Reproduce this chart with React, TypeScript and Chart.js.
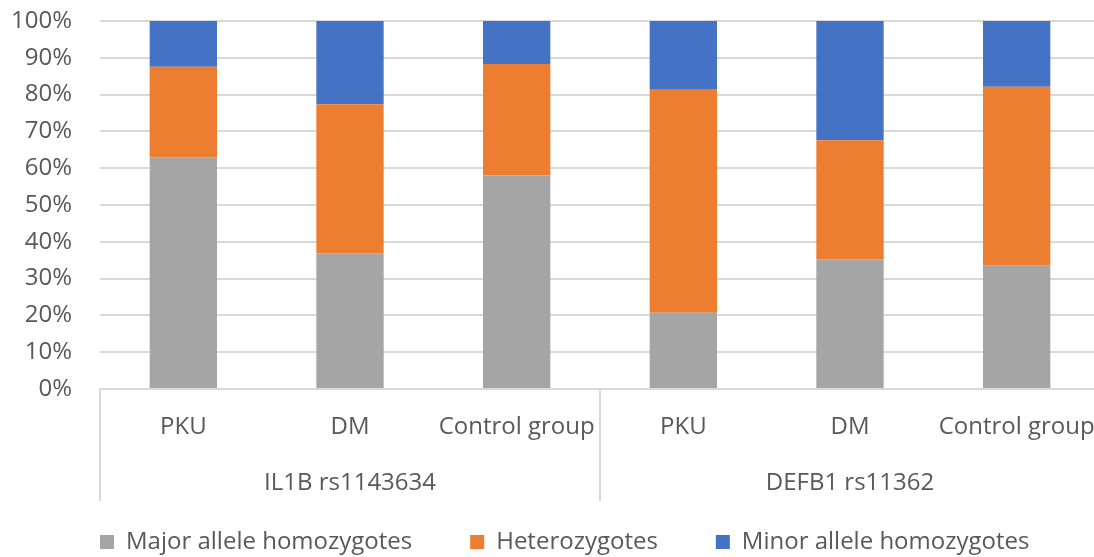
import React, { useEffect, useRef } from 'react';
import { Chart, registerables } from 'chart.js';

Chart.register(...registerables);

const categories = ['PKU', 'DM', 'Control group', 'PKU', 'DM', 'Control group'];
const groupLabels = ['IL1B rs1143634', 'DEFB1 rs11362'];
const groupSizes = [3, 3];
const seriesNames = ['Major allele homozygotes', 'Heterozygotes', 'Minor allele homozygotes'];
const majorValues = [63.0, 36.9, 58.0, 20.7, 35.2, 33.6];
const heteroValues = [24.6, 40.5, 30.3, 60.6, 32.4, 48.5];
const minorValues = [12.4, 22.6, 11.7, 18.7, 32.4, 17.9];
const seriesColors = ['#A5A5A5', '#ED7D31', '#4472C4'];

const TEXT = '#595959';
const GRID = '#d9d9d9';
const FONT = "'Open Sans'";
const LEGEND_LEFT = 42;

const groupPlugin = {
  id: 'groupPlugin',
  afterLayout(chart: any) {
    if (chart.legend) {
      const w = chart.legend.width;
      chart.legend.left = LEGEND_LEFT;
      chart.legend.right = LEGEND_LEFT + w;
    }
  },
  afterDraw(chart: any) {
    const x = chart.scales.x;
    const { ctx, chartArea } = chart;
    const catW = (x.right - x.left) / categories.length;
    let start = 0;
    ctx.save();
    ctx.strokeStyle = GRID;
    ctx.lineWidth = 2;
    ctx.fillStyle = TEXT;
    ctx.font = `24px ${FONT}`;
    ctx.textAlign = 'center';
    ctx.textBaseline = 'middle';
    groupLabels.forEach((label, gi) => {
      const size = groupSizes[gi];
      const left = x.getPixelForValue(start) - catW / 2;
      const right = x.getPixelForValue(start + size - 1) + catW / 2;
      ctx.beginPath();
      ctx.moveTo(left, chartArea.bottom);
      ctx.lineTo(left, chartArea.bottom + 112);
      ctx.stroke();
      ctx.fillText(label, (left + right) / 2, chartArea.bottom + 94);
      start += size;
    });
    ctx.restore();
  },
};

export default function App() {
  const ref = useRef<HTMLCanvasElement | null>(null);
  useEffect(() => {
    if (!ref.current) return;
    const values = [majorValues, heteroValues, minorValues];
    const chart = new Chart(ref.current, {
      type: 'bar',
      data: {
        labels: categories,
        datasets: seriesNames.map((name, i) => ({
          label: name,
          data: values[i],
          backgroundColor: seriesColors[i],
          borderWidth: 0,
          barPercentage: 0.404,
          categoryPercentage: 1,
        })),
      },
      options: {
        responsive: false,
        animation: false,
        devicePixelRatio: 1,
        layout: { padding: { left: 0, top: 21, right: 0, bottom: 0 } },
        plugins: {
          tooltip: { enabled: false },
          legend: {
            position: 'bottom',
            align: 'start',
            labels: {
              boxWidth: 14,
              boxHeight: 14,
              padding: 58,
              color: TEXT,
              font: { family: FONT, size: 24 },
            },
          },
        },
        scales: {
          x: {
            stacked: true,
            grid: { display: false, drawTicks: false },
            border: { display: false },
            ticks: {
              color: TEXT,
              font: { family: FONT, size: 24, lineHeight: 3.2 },
              padding: 0,
              maxRotation: 0,
              minRotation: 0,
              autoSkip: false,
            },
            afterFit: (scale: any) => {
              scale.height = 83;
            },
          },
          y: {
            stacked: true,
            min: 0,
            max: 100,
            grid: {
              color: GRID,
              lineWidth: 2,
              drawTicks: true,
              tickLength: 28,
              tickColor: 'rgba(0,0,0,0)',
            },
            border: { display: false },
            ticks: {
              stepSize: 10,
              color: TEXT,
              font: { family: FONT, size: 24 },
              padding: 0,
              callback: (v: any) => `${v}%`,
            },
            afterFit: (scale: any) => {
              scale.width = 100;
            },
          },
        },
      },
      plugins: [groupPlugin],
    });
    return () => chart.destroy();
  }, []);

  return (
    <div
      style={{
        position: 'fixed',
        left: 0,
        top: 0,
        width: 1094,
        height: 557,
        overflow: 'hidden',
        background: '#fff',
      }}
    >
      <canvas ref={ref} width={1100} height={564} style={{ display: 'block' }} />
    </div>
  );
}
